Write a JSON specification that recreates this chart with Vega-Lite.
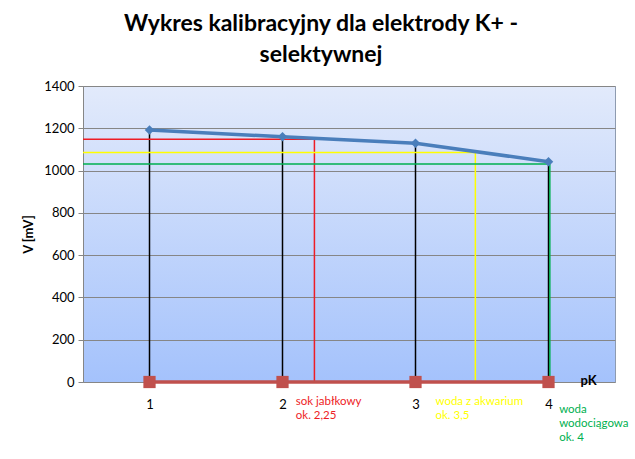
{
  "$schema": "https://vega.github.io/schema/vega-lite/v6.json",
  "width": 532,
  "height": 296,
  "autosize": "none",
  "padding": {"left": 83, "top": 86, "right": 20, "bottom": 77},
  "background": "white",
  "config": {
    "font": "Lato",
    "view": {
      "stroke": "#8e9bb0",
      "strokeWidth": 1,
      "fill": {"gradient": "linear", "x1": 0, "y1": 0, "x2": 0, "y2": 1,
        "stops": [{"offset": 0, "color": "#e2eafb"}, {"offset": 1, "color": "#a4c2fc"}]}
    }
  },
  "title": {
    "text": ["Wykres kalibracyjny dla elektrody K+ -", "selektywnej"],
    "fontSize": 23,
    "fontWeight": "bold",
    "font": "Lato",
    "color": "black",
    "lineHeight": 31,
    "dx": -28,
    "offset": 13
  },
  "datasets": {
    "calib": [
      {"pK": 1, "V": 1192},
      {"pK": 2, "V": 1160},
      {"pK": 3, "V": 1129},
      {"pK": 4, "V": 1042}
    ],
    "zero": [
      {"pK": 1, "V": 0},
      {"pK": 2, "V": 0},
      {"pK": 3, "V": 0},
      {"pK": 4, "V": 0}
    ],
    "refs": [
      {"sample": "sok jabłkowy", "step": 1, "pK": 0.5, "V": 1148},
      {"sample": "sok jabłkowy", "step": 2, "pK": 2.24, "V": 1148},
      {"sample": "sok jabłkowy", "step": 3, "pK": 2.24, "V": 0},
      {"sample": "woda z akwarium", "step": 1, "pK": 0.5, "V": 1086},
      {"sample": "woda z akwarium", "step": 2, "pK": 3.45, "V": 1086},
      {"sample": "woda z akwarium", "step": 3, "pK": 3.45, "V": 0},
      {"sample": "woda wodociągowa", "step": 1, "pK": 0.5, "V": 1031},
      {"sample": "woda wodociągowa", "step": 2, "pK": 4.01, "V": 1031},
      {"sample": "woda wodociągowa", "step": 3, "pK": 4.01, "V": 0}
    ],
    "notes": [
      {"sample": "sok jabłkowy", "label": "sok jabłkowy\nok. 2,25", "pK": 2.1},
      {"sample": "woda z akwarium", "label": "woda z akwarium\nok. 3,5", "pK": 3.15}
    ],
    "notes2": [
      {"sample": "woda wodociągowa", "label": "woda\nwodociągowa\nok. 4", "pK": 4.08}
    ]
  },
  "layer": [
    {
      "data": {"name": "calib"},
      "mark": {"type": "rule", "color": "black", "strokeWidth": 1.5},
      "encoding": {
        "x": {"field": "pK", "type": "quantitative",
          "scale": {"domain": [0.5, 4.5], "nice": false, "zero": false},
          "axis": {"values": [1, 2, 3, 4], "format": "d", "grid": false, "domain": false, "ticks": false,
            "labelFontSize": 13, "labelColor": "black", "labelPadding": 16,
            "title": "pK", "titleFontSize": 13, "titleFontWeight": "bold", "titleColor": "black",
            "titleX": 505, "titleY": -2, "titleBaseline": "middle", "titleAlign": "center"}},
        "y": {"field": "V", "type": "quantitative",
          "scale": {"domain": [0, 1400], "nice": false},
          "axis": {"values": [0, 200, 400, 600, 800, 1000, 1200, 1400], "format": "d", "grid": true,
            "gridColor": "#868686", "gridOpacity": 1, "domainColor": "#868686",
            "tickColor": "#868686", "tickSize": 5, "labelFontSize": 13, "labelColor": "black",
            "labelPadding": 4, "title": "V [mV]", "titleFontSize": 13, "titleFontWeight": "bold",
            "titleColor": "black", "titlePadding": 8}},
        "y2": {"datum": 0}
      }
    },
    {
      "data": {"name": "refs"},
      "mark": {"type": "line", "strokeWidth": 1.5, "interpolate": "linear"},
      "encoding": {
        "x": {"field": "pK", "type": "quantitative"},
        "y": {"field": "V", "type": "quantitative"},
        "order": {"field": "step"},
        "detail": {"field": "sample"},
        "color": {"field": "sample", "type": "nominal", "legend": null,
          "scale": {"domain": ["sok jabłkowy", "woda z akwarium", "woda wodociągowa"],
            "range": ["#ee1c25", "#ffff00", "#00b050"]}}
      }
    },
    {
      "data": {"name": "zero"},
      "mark": {"type": "line", "color": "#c0504d", "strokeWidth": 3.5,
        "point": {"shape": "square", "size": 150, "filled": true, "color": "#c0504d", "opacity": 1}},
      "encoding": {
        "x": {"field": "pK", "type": "quantitative"},
        "y": {"field": "V", "type": "quantitative"}
      }
    },
    {
      "data": {"name": "calib"},
      "mark": {"type": "line", "color": "#4a7ebb", "strokeWidth": 3.5,
        "point": {"shape": "diamond", "size": 90, "filled": true, "color": "#4a7ebb", "opacity": 1}},
      "encoding": {
        "x": {"field": "pK", "type": "quantitative"},
        "y": {"field": "V", "type": "quantitative"}
      }
    },
    {
      "data": {"name": "notes"},
      "mark": {"type": "text", "align": "left", "baseline": "top", "fontSize": 11.5,
        "lineBreak": "\n", "lineHeight": 14, "y": 310},
      "encoding": {
        "x": {"field": "pK", "type": "quantitative"},
        "text": {"field": "label"},
        "color": {"field": "sample", "type": "nominal", "legend": null,
          "scale": {"domain": ["sok jabłkowy", "woda z akwarium", "woda wodociągowa"],
            "range": ["#ff2a2a", "#ffff00", "#00b050"]}}
      }
    },
    {
      "data": {"name": "notes2"},
      "mark": {"type": "text", "align": "left", "baseline": "top", "fontSize": 11.5,
        "lineBreak": "\n", "lineHeight": 14, "y": 318},
      "encoding": {
        "x": {"field": "pK", "type": "quantitative"},
        "text": {"field": "label"},
        "color": {"field": "sample", "type": "nominal", "legend": null,
          "scale": {"domain": ["sok jabłkowy", "woda z akwarium", "woda wodociągowa"],
            "range": ["#ff2a2a", "#ffff00", "#00b050"]}}
      }
    }
  ]
}
